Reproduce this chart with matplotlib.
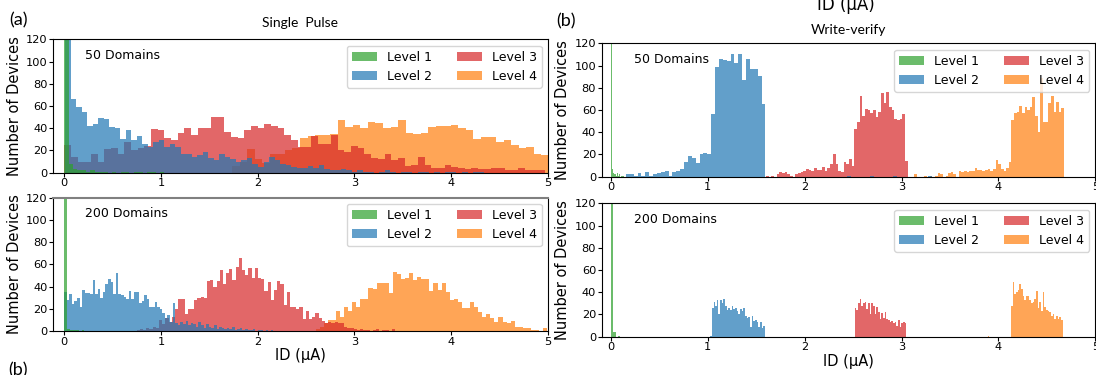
import numpy as np
import matplotlib.pyplot as plt

levels = ["Level 1", "Level 2", "Level 3", "Level 4"]
level_colors = ["tab:green", "tab:blue", "tab:red", "tab:orange"]
yticks = [0, 20, 40, 60, 80, 100, 120]
xticks = [0, 1, 2, 3, 4, 5]

# ---- single pulse, 50 domains: counts per bin, with (first edge, bin width)
sp50_bins = [(0.0, 0.045), (0.009, 0.057), (0.0, 0.069), (1.736, 0.078)]
sp50_l1 = [600, 8, 3, 2, 2, 1, 2, 1, 1, 1, 0, 1, 0, 1, 1, 0, 1, 1, 0, 1, 1, 0, 1]
sp50_l2 = [150, 66, 59, 55, 42, 44, 49, 48, 41, 40, 30, 38, 29, 33, 26, 23, 28, 29, 23, 26,
           23, 17, 17, 14, 16, 19, 13, 11, 17, 14, 12, 10, 11, 13, 8, 5, 10, 14, 11, 8,
           7, 5, 4, 4, 6, 4, 7, 3, 2, 2, 3, 2, 1, 2, 1, 1, 0, 1, 2, 1,
           0, 1, 1, 0, 1, 1, 0, 1, 0, 1, 1, 0, 1, 0, 1, 1, 0]
sp50_l3 = [25, 14, 10, 10, 17, 10, 21, 22, 17, 28, 20, 22, 24, 39, 38, 31, 29, 36, 40, 34,
           40, 40, 50, 50, 37, 32, 31, 38, 42, 40, 44, 42, 40, 34, 29, 23, 23, 33, 26, 26,
           34, 20, 19, 24, 22, 17, 13, 12, 17, 11, 13, 6, 7, 14, 7, 4, 4, 7, 5, 4,
           3, 4, 3, 3, 4, 4, 2, 2, 4, 2, 2, 2]
sp50_l4 = [6, 10, 21, 12, 9, 17, 17, 20, 22, 31, 33, 34, 34, 35, 47, 41, 43, 40, 46, 45,
           40, 41, 47, 36, 35, 36, 41, 42, 42, 43, 40, 38, 30, 32, 32, 28, 29, 25, 22, 23,
           17, 16]

# ---- single pulse, 200 domains
sp200_bins = [(0.0, 0.03), (0.0, 0.0267), (0.75, 0.033), (2.60, 0.042)]
sp200_l1 = [700, 2, 1, 1, 1, 0, 1]
sp200_l2 = [35, 28, 33, 24, 27, 30, 22, 37, 34, 34, 33, 46, 33, 38, 30, 35, 42, 47, 44, 33,
            52, 33, 32, 31, 29, 36, 29, 35, 35, 25, 27, 32, 29, 22, 22, 26, 22, 20, 16, 12,
            14, 8, 25, 7, 5, 8, 6, 9, 5, 7, 6, 4, 8, 5, 3, 6, 4, 3, 5, 2,
            4, 3, 2, 3, 2, 4, 1, 2, 3, 1, 2, 1, 1, 2, 0, 1, 1, 0, 1, 0, 1]
sp200_l3 = [1, 2, 1, 3, 2, 4, 3, 10, 6, 12, 8, 13, 20, 29, 29, 15, 20, 20, 28, 30,
            31, 30, 45, 46, 40, 45, 55, 42, 52, 56, 46, 58, 66, 55, 50, 57, 48, 57, 48, 47,
            36, 44, 28, 37, 45, 42, 23, 35, 22, 22, 20, 22, 11, 18, 11, 13, 16, 12, 9, 7,
            8, 7, 8, 7, 7, 4, 3, 3, 2, 1, 2, 1, 1, 0, 1, 2, 0, 1, 1, 0, 2]
sp200_l4 = [2, 4, 7, 10, 10, 18, 13, 22, 18, 26, 22, 29, 29, 39, 38, 43, 43, 43, 34, 53,
            51, 47, 48, 52, 46, 49, 47, 47, 36, 43, 37, 43, 35, 28, 29, 26, 21, 21, 26, 22,
            17, 13, 15, 12, 8, 13, 8, 7, 9, 4, 4, 3, 3, 1, 1, 0, 3]

# ---- write-verify, 50 domains
wv50_bins = [(0.0, 0.012), (0.154, 0.04), (1.60, 0.0276), (3.10, 0.0272)]
wv50_l1 = [800, 7, 3, 2, 1, 3, 1, 2, 0, 1, 1]
wv50_l2 = [2, 2, 1, 3, 1, 4, 1, 2, 3, 4, 5, 1, 4, 5, 7, 13, 19, 17, 12, 20,
           21, 20, 56, 99, 106, 105, 104, 110, 102, 110, 87, 106, 97, 97, 91, 65, 0, 0, 0, 0,
           0, 0, 0, 0, 0, 0, 0, 0, 0, 0, 0, 0, 0, 0, 0, 0, 0, 1, 0, 0,
           0, 0, 0, 1, 0, 0, 0, 0, 0, 1, 0, 0, 0, 0, 0, 0, 0, 0, 1, 0]
wv50_l3 = [1, 0, 1, 0, 2, 4, 3, 4, 2, 1, 0, 2, 3, 4, 5, 7, 6, 5, 8, 6,
           6, 9, 5, 8, 11, 20, 11, 5, 4, 13, 11, 16, 10, 43, 49, 73, 55, 61, 60, 57,
           60, 54, 58, 75, 66, 76, 63, 60, 52, 51, 52, 56, 14]
wv50_l4 = [0, 2, 0, 0, 0, 1, 0, 1, 0, 1, 3, 2, 0, 1, 3, 4, 2, 0, 5, 4,
           5, 4, 5, 5, 8, 6, 6, 5, 6, 7, 5, 7, 15, 11, 7, 5, 8, 13, 51, 57,
           58, 64, 57, 63, 60, 63, 72, 55, 40, 89, 49, 49, 66, 73, 58, 67, 58, 62]

# ---- write-verify, 200 domains
wv200_bins = [(0.0, 0.024), (1.024, 0.0171), (2.517, 0.0172), (3.887, 0.0172)]
wv200_l1 = [800, 4, 0, 1]
wv200_l2 = [1, 26, 31, 28, 33, 20, 33, 30, 34, 28, 24, 26, 24, 28, 25, 26, 23, 20, 25, 23,
            26, 19, 17, 18, 9, 19, 14, 15, 13, 9, 13, 8, 10]
wv200_l3 = [26, 24, 30, 34, 28, 30, 31, 25, 30, 20, 30, 28, 20, 27, 22, 16, 21, 17, 22, 16,
            15, 13, 14, 12, 13, 10, 15, 9, 12, 13, 12]
wv200_l4 = [1, 0, 0, 0, 0, 0, 0, 0, 0, 0, 0, 0, 0, 0,
            28, 49, 38, 40, 42, 47, 43, 37, 33, 37, 37, 33, 30, 31, 34, 41, 26, 31, 23, 40,
            27, 24, 23, 22, 19, 20, 16, 19, 16, 18, 15]


def draw_panel(ax, bins, counts, note, xmin):
    handles = [None] * 4
    # level 4 first so the lower levels sit on top
    for k in [3, 2, 1, 0]:
        start, width = bins[k]
        c = np.asarray(counts[k], dtype=float)
        edges = start + width * np.arange(len(c))
        handles[k] = ax.bar(edges, c, width=width, align="edge", color=level_colors[k],
                            alpha=0.7, linewidth=0, label=levels[k])
    ax.set_xlim(xmin, 5)
    ax.set_ylim(0, 120)
    ax.set_xticks(xticks)
    ax.set_yticks(yticks)
    ax.tick_params(labelsize=8.2, length=3, pad=1)
    ax.set_ylabel("Number of Devices", fontsize=10.5, labelpad=3)
    ax.text(0.065, 0.88, note, transform=ax.transAxes, fontsize=9, va="center")
    ax.legend(handles=handles, ncol=2, loc="upper right", fontsize=9)


fig = plt.figure(figsize=(10.96, 3.75), dpi=100)
ax_a1 = fig.add_axes([0.0484, 0.5395, 0.4514, 0.3557])
ax_a2 = fig.add_axes([0.0484, 0.1173, 0.4514, 0.3557])
ax_b1 = fig.add_axes([0.5490, 0.5288, 0.4504, 0.3557])
ax_b2 = fig.add_axes([0.5490, 0.1021, 0.4504, 0.3557])

draw_panel(ax_a1, sp50_bins, [sp50_l1, sp50_l2, sp50_l3, sp50_l4], "50 Domains", -0.115)
draw_panel(ax_a2, sp200_bins, [sp200_l1, sp200_l2, sp200_l3, sp200_l4], "200 Domains", -0.115)
draw_panel(ax_b1, wv50_bins, [wv50_l1, wv50_l2, wv50_l3, wv50_l4], "50 Domains", -0.096)
draw_panel(ax_b2, wv200_bins, [wv200_l1, wv200_l2, wv200_l3, wv200_l4], "200 Domains", -0.096)

ax_a2.spines["top"].set_color("#808080")
ax_a2.spines["top"].set_linewidth(1.5)

ax_a2.set_xlabel("ID (\u03bcA)", fontsize=10.5, labelpad=1)
ax_b2.set_xlabel("ID (\u03bcA)", fontsize=10.5, labelpad=1)

lab = dict(family=["Lato", "DejaVu Sans"])
fig.text(300 / 1096, 1 - 23 / 375, "Single  Pulse", fontsize=10, ha="center", va="center", **lab)
fig.text(848 / 1096, 1 - 30 / 375, "Write-verify", fontsize=10, ha="center", va="center", **lab)
fig.text(846 / 1096, 1 - 10 / 375, "ID (\u03bcA)", fontsize=12, ha="center", va="baseline")
fig.text(18 / 1096, 1 - 20 / 375, "(a)", fontsize=13, ha="center", va="center", **lab)
fig.text(566 / 1096, 1 - 21 / 375, "(b)", fontsize=13, ha="center", va="center", **lab)
fig.text(18 / 1096, 1 - 362 / 375, "(b)", fontsize=13, ha="center", va="top", **lab)

fig.savefig("out.png", dpi=100)
